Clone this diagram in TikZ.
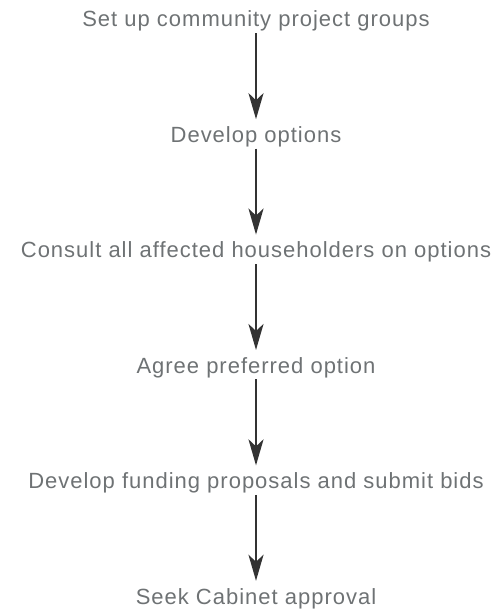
\documentclass[tikz,border=0pt]{standalone}
\usepackage{fontspec}
\setmainfont{Liberation Sans}
\usetikzlibrary{positioning}
\usetikzlibrary{arrows.meta}
\definecolor{stepgray}{HTML}{6E7274}
\definecolor{arrowgray}{HTML}{333333}

\begin{document}
\begin{tikzpicture}[x=1pt, y=1pt,
  stage/.style={text=stepgray, font=\addfontfeatures{LetterSpace=4.5}\fontsize{22}{26}\selectfont,
    text height=15pt, text depth=5pt, inner sep=1pt},
  flow/.style={draw=arrowgray, line width=2.4pt,
    -{Stealth[length=26pt, width=15pt, inset=7pt]}, shorten >=7pt}]
\def\sep{115}
\useasboundingbox (0,0) rectangle (499,-610);
\node[stage] (setup) at (256,-22) {Set up community project groups};
\node[stage, below=\sep-22pt of setup] (develop) {Develop options};
\node[stage, below=\sep-22pt of develop] (consult) {Consult all affected householders on options};
\node[stage, below=\sep-22pt of consult] (agree) {Agree preferred option};
\node[stage, below=\sep-22pt of agree] (funding) {Develop funding proposals and submit bids};
\node[stage, below=\sep-22pt of funding] (cabinet) {Seek Cabinet approval};
\draw[flow] (setup) -- (develop);
\draw[flow] (develop) -- (consult);
\draw[flow] (consult) -- (agree);
\draw[flow] (agree) -- (funding);
\draw[flow] (funding) -- (cabinet);
\end{tikzpicture}
\end{document}
